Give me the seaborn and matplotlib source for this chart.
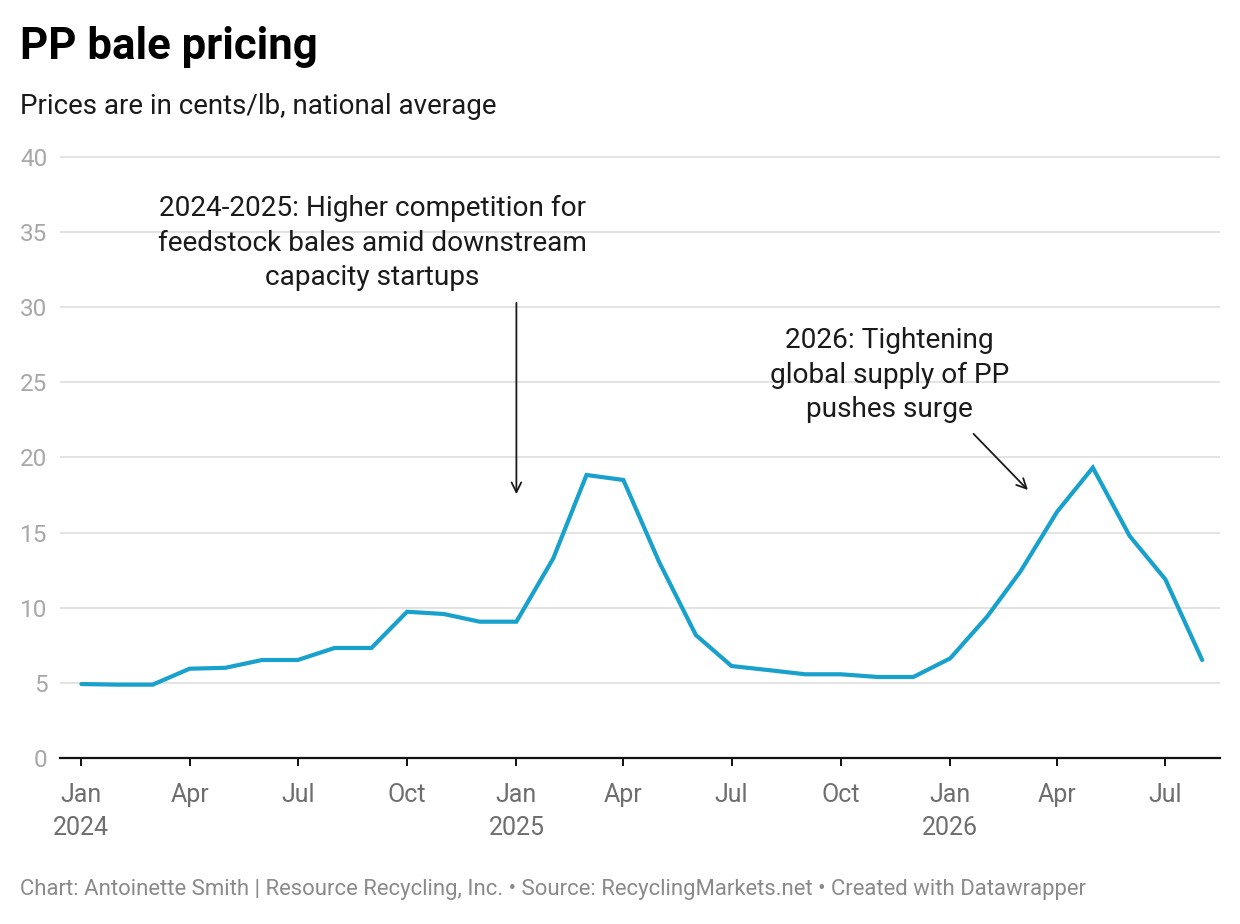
import pandas as pd
import seaborn as sns
import matplotlib.pyplot as plt

# Datos (centavos/lb, promedio nacional)
months = pd.date_range('2024-01-01', '2026-08-01', freq='MS')
prices = [4.92, 4.88, 4.88, 5.94, 6.0, 6.52, 6.52, 7.32, 7.32, 9.73, 9.58, 9.07,
          9.07, 13.28, 18.83, 18.5, 13.06, 8.18, 6.12, 5.85, 5.57, 5.57, 5.39, 5.39,
          6.63, 9.4, 12.4, 16.39, 19.32, 14.77, 11.89, 6.52]
tick_dates = pd.date_range('2024-01-01', '2026-07-01', freq='3MS')
tick_labels = ['Jan\n2024', 'Apr', 'Jul', 'Oct', 'Jan\n2025', 'Apr', 'Jul', 'Oct',
               'Jan\n2026', 'Apr', 'Jul']
y_ticks = [0, 5, 10, 15, 20, 25, 30, 35, 40]

df = pd.DataFrame({'month': months, 'price': prices})

sns.set_style('white')
plt.rcParams['font.family'] = ['Roboto', 'DejaVu Sans']

fig = plt.figure(figsize=(12.4, 9.24), dpi=100)
W, H = 1240, 924
ax = fig.add_axes([60 / W, (H - 758) / H, 1160 / W, (758 - 149.3) / H])

sns.lineplot(data=df, x='month', y='price', ax=ax, color='#18a1cd', linewidth=3,
             solid_joinstyle='miter', zorder=3)

ax.set_ylim(0, 40.5)
ax.set_xlim(pd.Timestamp('2023-12-14'), pd.Timestamp('2026-08-16'))
ax.set_yticks(y_ticks)
ax.set_yticklabels([str(v) for v in y_ticks])
ax.set_xticks(tick_dates)
ax.set_xticklabels(tick_labels, linespacing=1.45)
ax.set_xlabel('')
ax.set_ylabel('')

ax.yaxis.grid(True, color='#e3e3e3', linewidth=1.4)
ax.xaxis.grid(False)
for s in ['left', 'top', 'right']:
    ax.spines[s].set_visible(False)
ax.spines['bottom'].set_color('#111111')
ax.spines['bottom'].set_linewidth(1.6)
ax.spines['bottom'].set_zorder(4)

ax.tick_params(axis='y', length=0, pad=9, labelsize=17.5, labelcolor='#a8a8a8')
ax.tick_params(axis='x', length=6, width=1.4, color='#111111', direction='out',
               pad=12, labelsize=18, labelcolor='#6e6e6e', bottom=True)

# Anotaciones
ax.text(pd.Timestamp('2024-09-02'), 34.26,
        '2024-2025: Higher competition for\nfeedstock bales amid downstream\ncapacity startups',
        ha='center', va='center', fontsize=20.2, color='#1a1a1a', linespacing=1.35)
ax.annotate('', xy=(pd.Timestamp('2025-01-01'), 17.37),
            xytext=(pd.Timestamp('2025-01-01'), 30.47),
            arrowprops=dict(arrowstyle='->,head_length=0.7,head_width=0.35',
                            color='#1a1a1a', lw=1.3))
ax.text(pd.Timestamp('2025-11-11'), 25.48,
        '2026: Tightening\nglobal supply of PP\npushes surge',
        ha='center', va='center', fontsize=20.2, color='#1a1a1a', linespacing=1.35)
ax.annotate('', xy=(pd.Timestamp('2026-03-09'), 17.7),
            xytext=(pd.Timestamp('2026-01-19'), 21.7),
            arrowprops=dict(arrowstyle='->,head_length=0.7,head_width=0.35',
                            color='#1a1a1a', lw=1.3))

fig.text(20 / W, 1 - 47 / H, 'PP bale pricing', fontsize=31.5, fontweight='bold',
         color='#000000', va='center', ha='left')
fig.text(20 / W, 1 - 106 / H, 'Prices are in cents/lb, national average',
         fontsize=20, color='#1a1a1a', va='center', ha='left')
fig.text(20 / W, 1 - 890 / H,
         'Chart: Antoinette Smith | Resource Recycling, Inc. \u2022 Source: RecyclingMarkets.net \u2022 Created with Datawrapper',
         fontsize=15.9, color='#8a8a8a', va='center', ha='left')

fig.savefig('out.png', dpi=100, facecolor='white')
